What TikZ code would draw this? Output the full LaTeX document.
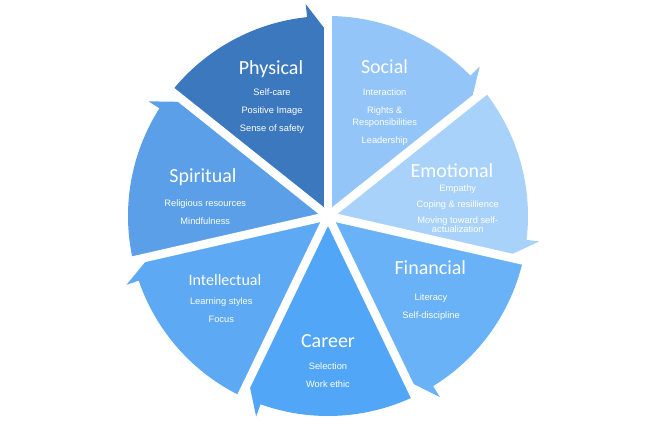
\documentclass[tikz,border=0pt]{standalone}
\usepackage{fontspec}
\setmainfont{Liberation Sans}
\newfontfamily\titlefont{Carlito}
\usepackage{tikz}
\definecolor{physc}{HTML}{3C78BE}
\definecolor{socc}{HTML}{93C5F9}
\definecolor{emoc}{HTML}{A9D2FB}
\definecolor{finc}{HTML}{6AB2F8}
\definecolor{carc}{HTML}{52A6F8}
\definecolor{intc}{HTML}{5DA9F3}
\definecolor{spic}{HTML}{5A9FE8}

\begin{document}
\begin{tikzpicture}[
  x=1pt,y=1pt,
  title/.style={font=\titlefont\fontsize{20}{24}\selectfont,text=white,anchor=base,inner sep=0pt},
  items/.style={font=\fontsize{9.3}{11.5}\selectfont,text=white,align=center,anchor=north,inner sep=0pt},
  gap/.style={draw=white,line width=8.5pt},
]
  \useasboundingbox (-328,-221) rectangle (328,216);
  \foreach \te/\col in {90/physc,38.571/socc,-12.857/emoc,-64.286/finc,
                        -115.714/carc,-167.143/intc,-218.571/spic}{
    \fill[\col] (0,0) -- ({\te+51.429}:200)
      arc[start angle=\te+51.429,end angle=\te+6,radius=200]
      -- ({\te+6}:213) -- (\te:183) -- cycle;
  }
  \foreach \te in {90,38.571,-12.857,-64.286,-115.714,-167.143,-218.571}
    \draw[gap] (0,0) -- (\te:215);

  \node[title] (physical) at (-57,142) {Physical};
  \node[items] (physicalitems) at (-56,127.3) {Self-care\\[6.5pt]Positive Image\\[6.5pt]Sense of safety};
  \node[title] (social) at (56.5,143) {Social};
  \node[items] (socialitems) at (56.7,127.3) {Interaction\\[6.5pt]Rights \&\\Responsibilities\\[6.5pt]Leadership};
  \node[title] (emotional) at (124,39) {Emotional};
  \node[items,font=\fontsize{9.3}{9.5}\selectfont] (emotionalitems) at (129.8,31.8)
    {Empathy\\[6.5pt]Coping \& resillience\\[6.5pt]Moving toward self-\\actualization};
  \node[title] (financial) at (102.3,-58) {Financial};
  \node[items] (financialitems) at (103,-77.2) {Literacy\\[6.5pt]Self-discipline};
  \node[title] (career) at (0,-131) {Career};
  \node[items] (careeritems) at (0,-146.5) {Selection\\[6.5pt]Work ethic};
  \node[title,font=\titlefont\fontsize{16}{19}\selectfont] (intellectual) at (-103,-69) {Intellectual};
  \node[items] (intellectualitems) at (-106.7,-81.5) {Learning styles\\[6.5pt]Focus};
  \node[title] (spiritual) at (-125,34) {Spiritual};
  \node[items] (spiritualitems) at (-122.7,16.3) {Religious resources\\[6.5pt]Mindfulness};
\end{tikzpicture}
\end{document}
